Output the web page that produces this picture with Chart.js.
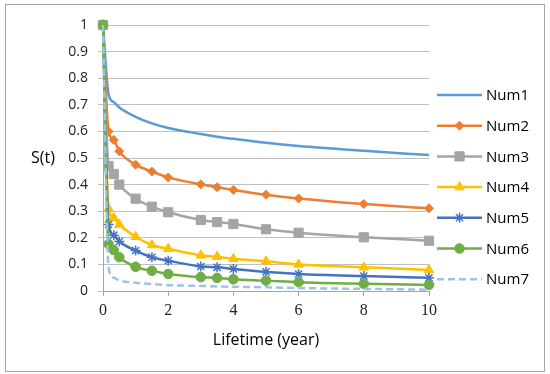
<!DOCTYPE html>
<html>
<head>
<meta charset="utf-8">
<script src="https://cdn.jsdelivr.net/npm/chart.js@4/dist/chart.umd.min.js"></script>
<style>
  html, body { margin: 0; padding: 0; background: #fff; }
  #wrap { width: 550px; height: 374px; }
</style>
</head>
<body>
<div id="wrap"><canvas id="survivalChart"></canvas></div>
<script>
// lifetime in years (shared x values)
const years = [0, 0.17, 0.33, 0.5, 1, 1.5, 2, 3, 3.5, 4, 5, 6, 8, 10];

const seriesNames = ['Num1', 'Num2', 'Num3', 'Num4', 'Num5', 'Num6', 'Num7'];
const num1 = [1, 0.74, 0.71, 0.69, 0.655, 0.63, 0.613, 0.59, 0.58, 0.572, 0.557, 0.545, 0.527, 0.511];
const num2 = [1, 0.6, 0.568, 0.525, 0.475, 0.449, 0.427, 0.401, 0.39, 0.38, 0.362, 0.348, 0.327, 0.311];
const num3 = [1, 0.47, 0.44, 0.4, 0.347, 0.317, 0.296, 0.267, 0.259, 0.252, 0.232, 0.219, 0.202, 0.189];
const num4 = [1, 0.31, 0.275, 0.25, 0.204, 0.173, 0.159, 0.134, 0.129, 0.121, 0.112, 0.1, 0.089, 0.079];
const num5 = [1, 0.25, 0.21, 0.186, 0.152, 0.127, 0.114, 0.092, 0.089, 0.083, 0.072, 0.064, 0.056, 0.05];
const num6 = [1, 0.176, 0.154, 0.127, 0.091, 0.076, 0.064, 0.052, 0.049, 0.044, 0.039, 0.033, 0.027, 0.023];
const num7 = [1, 0.09, 0.05, 0.04, 0.031, 0.026, 0.022, 0.019, 0.017, 0.016, 0.014, 0.011, 0.008, 0.005];

const xTicks = [0, 2, 4, 6, 8, 10];
const yTicks = [0, 0.1, 0.2, 0.3, 0.4, 0.5, 0.6, 0.7, 0.8, 0.9, 1];

const allSeries = [num1, num2, num3, num4, num5, num6, num7];
const colors = ['#5B9BD5', '#ED7D31', '#A5A5A5', '#FFC000', '#4472C4', '#70AD47', '#9DC3E6'];
const markers = [false, 'rectRot', 'rect', 'triangle', 'star', 'circle', false];
const markerSize = [0, 4.5, 6.5, 5.5, 5, 4.8, 0];

const datasets = allSeries.map((vals, i) => ({
    label: seriesNames[i],
    data: years.map((x, j) => ({ x: x, y: vals[j] })),
    borderColor: colors[i],
    backgroundColor: colors[i],
    borderWidth: 2.5,
    borderDash: i === 6 ? [7, 4] : [],
    pointStyle: markers[i] || 'circle',
    pointRadius: markerSize[i],
    pointBorderWidth: markers[i] === 'star' ? 1.5 : 1,
    pointHoverRadius: markerSize[i],
    cubicInterpolationMode: 'monotone',
    clip: 8,
    order: 7 - i // later series on top, like the original
}));

// legend with line + marker, S(t) label and outer frame
const decorations = {
    id: 'decorations',
    afterDraw(chart) {
        const ctx = chart.ctx;
        ctx.save();
        // outer frame
        ctx.strokeStyle = '#a6a6a6';
        ctx.lineWidth = 1;
        ctx.strokeRect(5.5, 4.5, 539, 367);

        // y axis title, horizontal
        ctx.fillStyle = '#000';
        ctx.font = '16px "Open Sans"';
        ctx.textAlign = 'center';
        ctx.textBaseline = 'middle';
        ctx.fillText('S(t)', 43, 158);

        // legend
        ctx.font = '15px "Open Sans"';
        ctx.textAlign = 'left';
        chart.data.datasets.forEach((ds, i) => {
            const y = 95 + i * 30.7;
            ctx.strokeStyle = ds.borderColor;
            ctx.fillStyle = ds.backgroundColor;
            ctx.lineWidth = ds.borderWidth;
            ctx.setLineDash(ds.borderDash);
            ctx.beginPath();
            ctx.moveTo(437, y);
            ctx.lineTo(482, y);
            ctx.stroke();
            ctx.setLineDash([]);
            if (ds.pointRadius > 0) {
                ctx.lineWidth = ds.pointBorderWidth;
                Chart.helpers.drawPoint(ctx, {
                    pointStyle: ds.pointStyle,
                    radius: ds.pointRadius,
                    rotation: 0,
                    borderWidth: ds.pointBorderWidth
                }, 459.5, y);
            }
            ctx.fillStyle = '#000';
            ctx.fillText(ds.label, 486, y + 1);
        });
        ctx.restore();
    }
};

const ctx = document.getElementById('survivalChart').getContext('2d');
new Chart(ctx, {
    type: 'line',
    data: { datasets: datasets },
    options: {
        responsive: true,
        maintainAspectRatio: false,
        animation: false,
        layout: { padding: { left: 0, right: 121, top: 25, bottom: 0 } },
        plugins: {
            legend: { display: false },
            tooltip: { enabled: false }
        },
        scales: {
            x: {
                type: 'linear',
                min: 0,
                max: 10,
                afterFit: s => { s.height = 83; },
                afterBuildTicks: s => { s.ticks = xTicks.map(v => ({ value: v })); },
                ticks: {
                    color: '#222',
                    font: { family: '"Liberation Serif"', size: 16 },
                    padding: 5
                },
                grid: { drawOnChartArea: false, tickLength: 5, color: '#a6a6a6' },
                border: { color: '#a6a6a6', width: 1 },
                title: {
                    display: true,
                    text: 'Lifetime (year)',
                    color: '#000',
                    font: { family: '"Open Sans"', size: 16 },
                    padding: { top: 4, bottom: 24 }
                }
            },
            y: {
                min: 0,
                max: 1,
                afterFit: s => { s.width = 103; },
                afterBuildTicks: s => { s.ticks = yTicks.map(v => ({ value: v })); },
                ticks: {
                    color: '#222',
                    font: { family: '"Open Sans"', size: 14 },
                    padding: 10,
                    callback: v => Math.round(v * 10) / 10
                },
                grid: { color: '#bfbfbf', tickLength: 5 },
                border: { color: '#a6a6a6', width: 1 }
            }
        }
    },
    plugins: [decorations]
});
</script>
</body>
</html>
